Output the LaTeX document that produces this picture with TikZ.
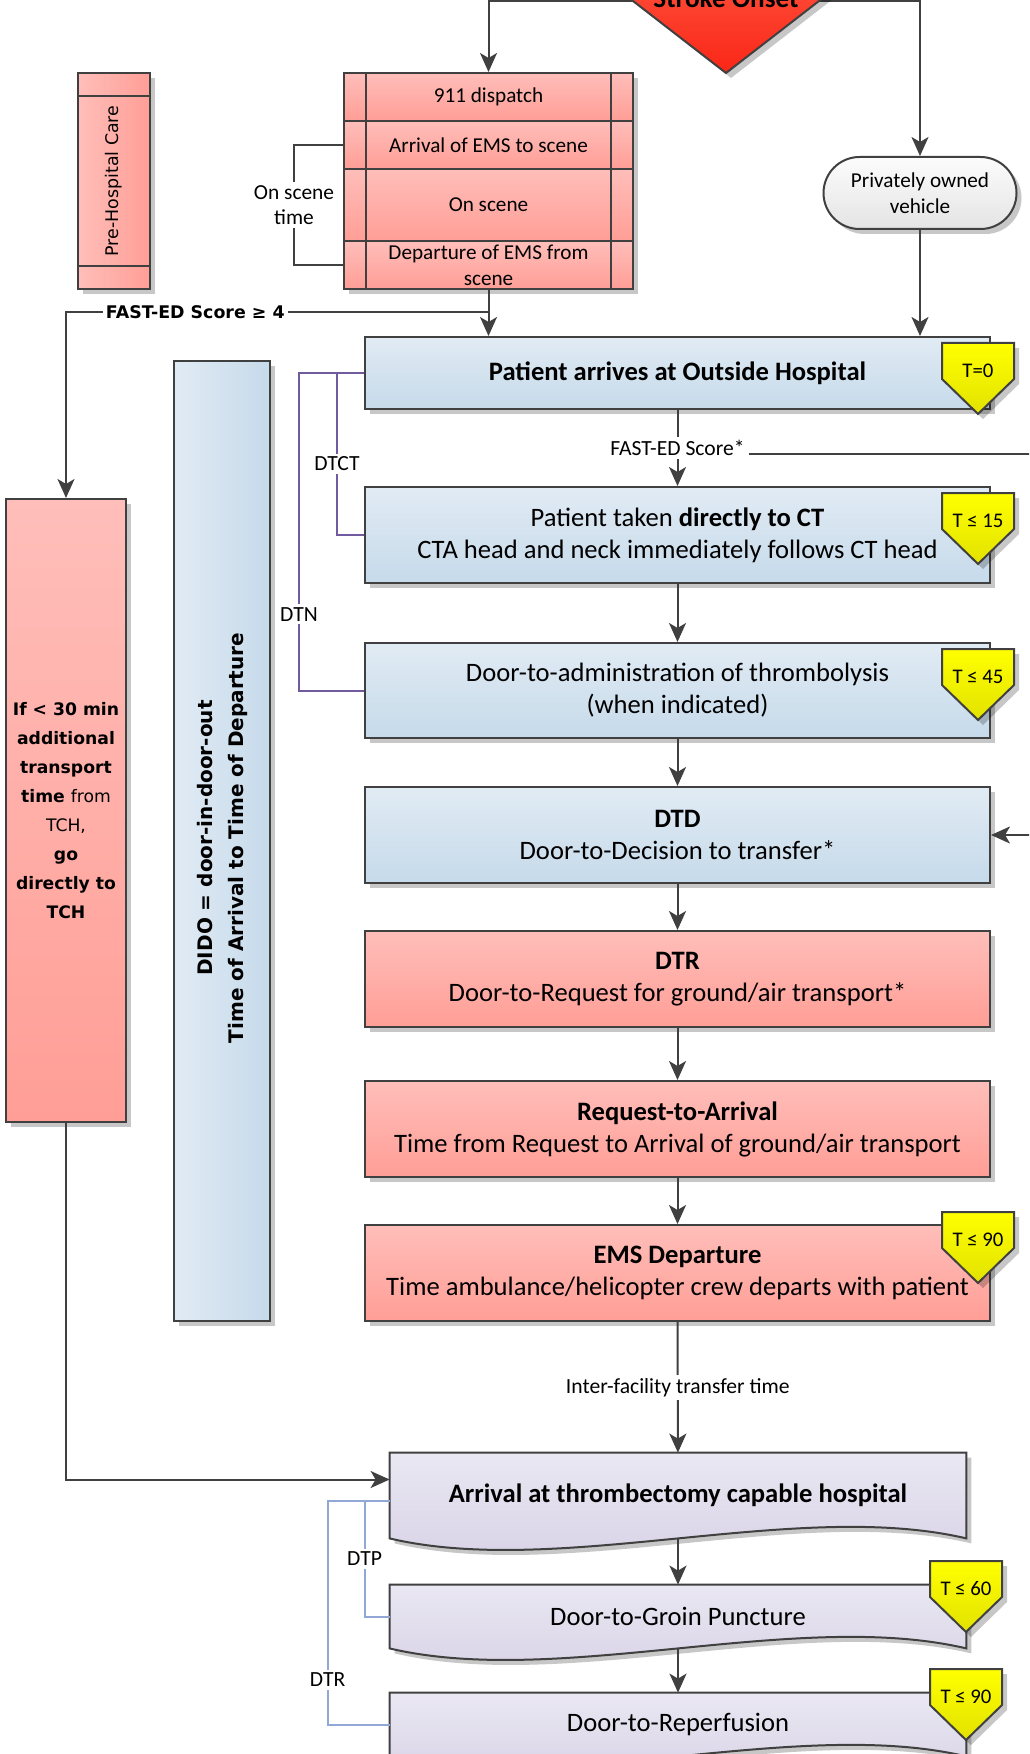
\documentclass[tikz,border=0pt]{standalone}
\usepackage{fontspec}
\setmainfont{Carlito}
\newfontfamily\versans{DejaVu Sans}
\usetikzlibrary{arrows.meta,shadows,backgrounds}
\definecolor{linegray}{RGB}{64,64,64}
\definecolor{pinktop}{RGB}{255,190,186}
\definecolor{pinkbot}{RGB}{255,158,150}
\definecolor{bluetop}{RGB}{225,235,244}
\definecolor{bluebot}{RGB}{198,218,234}
\definecolor{lilactop}{RGB}{234,232,243}
\definecolor{lilacbot}{RGB}{213,207,228}
\definecolor{yellowtop}{RGB}{255,255,0}
\definecolor{yellowbot}{RGB}{226,226,0}
\definecolor{redtop}{RGB}{255,80,60}
\definecolor{redbot}{RGB}{250,38,22}
\definecolor{greytop}{RGB}{252,252,252}
\definecolor{greybot}{RGB}{228,228,228}
\definecolor{dtpurple}{RGB}{112,90,160}
\definecolor{dtblue}{RGB}{145,168,215}
\begin{document}
\begin{tikzpicture}[x=0.5pt,y=-0.5pt]
    \tikzset{shade/.style = {drop shadow={shadow xshift=2.5pt,shadow yshift=-2.5pt,opacity=0.22,fill=black}}}
    \tikzset{box/.style = {shape=rectangle,draw=linegray,line width=1pt,shade,align=center,inner sep=0pt,
        minimum width=312.5pt,minimum height=48pt,font=\fontsize{13.3}{16}\selectfont}}
    \tikzset{bluebox/.style = {box,top color=bluetop,bottom color=bluebot}}
    \tikzset{pinkbox/.style = {box,top color=pinktop,bottom color=pinkbot}}
    \tikzset{wavebox/.style = {shape=rectangle,align=center,inner sep=0pt,minimum width=288pt,minimum height=31.5pt,font=\fontsize{13.3}{16}\selectfont}}
    \tikzset{waveshape/.style = {draw=linegray,line width=1pt,top color=lilactop,bottom color=lilacbot,shade}}
    \tikzset{stack/.style = {shape=rectangle,draw=linegray,line width=1pt,top color=pinktop,bottom color=pinkbot,shade,
        minimum width=144.5pt,minimum height=24pt,inner sep=0pt,align=center,font=\fontsize{10.6}{13}\selectfont}}
    \tikzset{badge/.style = {draw=linegray,line width=1pt,top color=yellowtop,bottom color=yellowbot,shade}}
    \tikzset{arr/.style = {draw=linegray,line width=1pt,-{Stealth[length=9.5pt,width=8.5pt,inset=2.5pt]}}}
    \tikzset{line/.style = {draw=linegray,line width=1pt}}
    \tikzset{lbl/.style = {fill=white,inner sep=1.5pt,align=center,font=\fontsize{10.8}{12.5}\selectfont}}
    \useasboundingbox (0,0) rectangle (1029,1754);
    \clip (0,0) rectangle (1029,1754);
    \begin{scope}[on background layer]
        \fill[white] (0,0) rectangle (1029,1754);
    \end{scope}
    % pre-hospital part
    \node[shape=rectangle,draw=linegray,line width=1pt,left color=pinktop,right color=pinkbot,shade,
        minimum width=36pt,minimum height=108pt] (phc) at (114,181) {};
    \draw[line] (phc.north west) ++(0,24) -- ++(72,0);
    \draw[line] (phc.south west) ++(0,-24) -- ++(72,0);
    \node[rotate=90,font=\versans\fontsize{8.7}{10}\selectfont] (phclbl) at (phc) {Pre-Hospital Care};
    \node[stack] (r1) at (488.5,97) {911 dispatch};
    \node[stack] (r2) at (488.5,145) {Arrival of EMS to scene};
    \node[stack,minimum height=36pt] (r3) at (488.5,205) {On scene};
    \node[stack] (r4) at (488.5,265) {Departure of EMS from\\scene};
    \draw[line] ([xshift=11.5pt]r1.north west) -- ([xshift=11.5pt]r4.south west);
    \draw[line] ([xshift=-11.5pt]r1.north east) -- ([xshift=-11.5pt]r4.south east);
    \node[shape=rectangle,draw=linegray,line width=1pt,top color=greytop,bottom color=greybot,shade,rounded corners=18pt,
        minimum width=96.5pt,minimum height=36pt,align=center,font=\fontsize{10.6}{13}\selectfont] (car) at (920,193) {Privately owned\\vehicle};
    % left column
    \node[shape=rectangle,draw=linegray,line width=1pt,top color=pinktop,bottom color=pinkbot,shade,
        minimum width=60pt,minimum height=311.5pt,align=center,font=\versans\bfseries\fontsize{8.6}{14.5}\selectfont] (tchbox) at (66,810.5)
        {If < 30 min\\additional\\transport\\time \mdseries from\\\mdseries TCH,\\go\\directly to\\TCH};
    \node[shape=rectangle,draw=linegray,line width=1pt,left color=bluetop,right color=bluebot,shade,
        minimum width=48pt,minimum height=480pt] (dido) at (222,841) {};
    \node[rotate=90,align=center,font=\versans\bfseries\fontsize{10}{15.5}\selectfont] (didolbl) at (222.5,838)
        {DIDO = door-in-door-out\\Time of Arrival to Time of Departure};
    % outside hospital
    \node[bluebox,minimum height=36pt,font=\bfseries\fontsize{13.3}{16}\selectfont] (arrive) at (677.5,373) {Patient arrives at Outside Hospital};
    \node[bluebox] (ct) at (677.5,535) {Patient taken \textbf{directly to CT}\\CTA head and neck immediately follows CT head};
    \node[bluebox,minimum height=47.5pt] (tpa) at (677.5,690.5) {Door-to-administration of thrombolysis\\(when indicated)};
    \node[bluebox] (dtd) at (677.5,835) {\textbf{DTD}\\Door-to-Decision to transfer*};
    \node[pinkbox] (dtr) at (677.5,979) {\textbf{DTR}\\Door-to-Request for ground/air transport*};
    \node[pinkbox] (req) at (677.5,1129) {\textbf{Request-to-Arrival}\\Time from Request to Arrival of ground/air transport};
    \node[pinkbox] (ems) at (677.5,1273) {\textbf{EMS Departure}\\Time ambulance/helicopter crew departs with patient};
    % thrombectomy capable hospital
    \node[wavebox,minimum height=42.5pt,font=\bfseries\fontsize{13.3}{16}\selectfont] (tch1) at (678,1495.5) {Arrival at thrombectomy capable hospital};
    \node[wavebox] (groin) at (678,1616.5) {Door-to-Groin Puncture};
    \node[wavebox] (reperf) at (678,1724.5) {Door-to-Reperfusion};
    \begin{scope}[on background layer]
        \foreach \w in {tch1,groin,reperf}
            \draw[waveshape] (\w.north west) -- (\w.north east) -- (\w.south east)
                .. controls +(-170,-40) and +(170,40) .. (\w.south west) -- cycle;
    \end{scope}
    % flow
    \coordinate (onsettop) at (726,1);
    \draw[arr] (onsettop) -| (r1.north);
    \draw[arr] (onsettop) -| (car.north);
    \coordinate (fork) at (488.5,312);
    \draw[arr] (r4.south) -- (r4.south |- arrive.north);
    \draw[arr] (fork) -| node[pos=0.347,fill=white,inner sep=1.5pt,font=\versans\bfseries\fontsize{8.7}{10}\selectfont] (fastlbl4) {FAST-ED Score ≥ 4} (tchbox.north);
    \draw[arr] (car.south) -- (car.south |- arrive.north);
    \draw[arr] (arrive) to node[midway,lbl] (fastlbl) {FAST-ED Score*} (ct);
    \draw[arr] ([yshift=-3pt]fastlbl.east) -- ++(320,0) |- (dtd.east);
    \draw[arr] (ct) -- (tpa);
    \draw[arr] (tpa) -- (dtd);
    \draw[arr] (dtd) -- (dtr);
    \draw[arr] (dtr) -- (req);
    \draw[arr] (req) -- (ems);
    \draw[arr] (ems) to node[midway,lbl] (iftlbl) {Inter-facility transfer time} (tch1);
    \draw[arr] (tchbox.south) |- ([yshift=8pt]tch1.west);
    \draw[arr] (tch1) -- (groin);
    \draw[arr] (groin) -- (reperf);
    % time brackets
    \draw[line] (r2.west) -- ++(-49,0) |- node[pos=0.25,lbl,font=\fontsize{10.7}{12.5}\selectfont] (oslbl) {On scene\\time} (r4.west);
    \draw[draw=dtpurple,line width=1pt] (arrive.west) -- ++(-27,0) |- node[pos=0.28,lbl] (dtct) {DTCT} (ct.west);
    \draw[draw=dtpurple,line width=1pt] (arrive.west) -- ++(-65,0) |- node[pos=0.38,lbl] (dtn) {DTN} (tpa.west);
    \draw[draw=dtblue,line width=1pt] ([yshift=-2.75pt]tch1.west) -- ++(-25,0) |- node[pos=0.25,lbl] (dtp) {DTP} (groin.west);
    \draw[draw=dtblue,line width=1pt] ([yshift=-2.75pt]tch1.west) -- ++(-62,0) |- node[pos=0.4,lbl] (dtrr) {DTR} (reperf.west);
    % time targets
    \foreach \bx/\by/\btxt/\bname in {942/343/{T=0}/t0,942/493/{T ≤ 15}/t15,942/649/{T ≤ 45}/t45,
        942/1212/{T ≤ 90}/t90a,930/1561/{T ≤ 60}/t60,930/1669/{T ≤ 90}/t90b}{
        \draw[badge] (\bx,\by) -- ++(72,0) -- ++(0,36) -- ++(-36,35) -- ++(-36,-35) -- cycle;
        \node[font=\fontsize{10.4}{12}\selectfont] (\bname) at (\bx+36,\by+28) {\btxt};
    }
    % stroke onset
    \draw[draw=linegray,line width=1pt,top color=redtop,bottom color=redbot,shade] (593,-30) -- (859,-30) -- (726,73) -- cycle;
    \node[anchor=base,font=\bfseries\fontsize{13.6}{15}\selectfont] (onset) at (726,8) {Stroke Onset};
\end{tikzpicture}
\end{document}
